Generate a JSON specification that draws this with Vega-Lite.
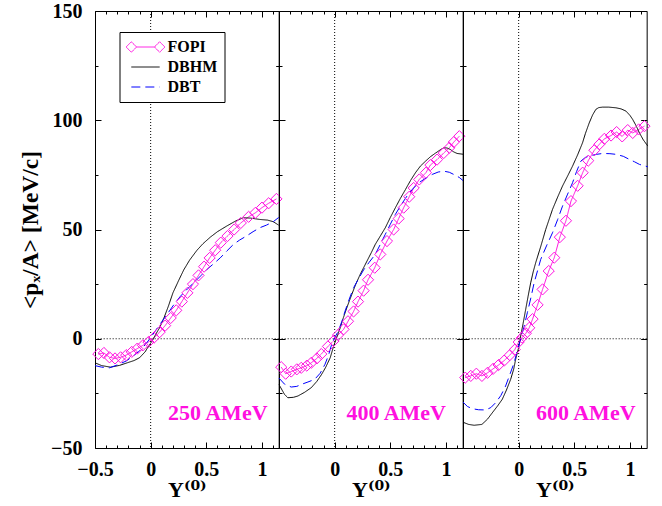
{
  "$schema": "https://vega.github.io/schema/vega-lite/v6.json",
  "background": "white",
  "padding": {"left": 18, "top": 0, "right": 5, "bottom": 5},
  "datasets": {
    "curves": [
      {"panel":1,"series":"FOPI","x":-0.47,"y":-7},{"panel":1,"series":"FOPI","x":-0.42,"y":-6.5},{"panel":1,"series":"FOPI","x":-0.37,"y":-8.5},{"panel":1,"series":"FOPI","x":-0.32,"y":-9},{"panel":1,"series":"FOPI","x":-0.27,"y":-8.5},{"panel":1,"series":"FOPI","x":-0.22,"y":-7.5},{"panel":1,"series":"FOPI","x":-0.17,"y":-6},{"panel":1,"series":"FOPI","x":-0.12,"y":-4.5},{"panel":1,"series":"FOPI","x":-0.07,"y":-3},{"panel":1,"series":"FOPI","x":-0.02,"y":-1.5},{"panel":1,"series":"FOPI","x":0.03,"y":0.5},{"panel":1,"series":"FOPI","x":0.08,"y":3},{"panel":1,"series":"FOPI","x":0.13,"y":6},{"panel":1,"series":"FOPI","x":0.18,"y":9.5},{"panel":1,"series":"FOPI","x":0.23,"y":13},{"panel":1,"series":"FOPI","x":0.28,"y":17},{"panel":1,"series":"FOPI","x":0.33,"y":21},{"panel":1,"series":"FOPI","x":0.38,"y":25},{"panel":1,"series":"FOPI","x":0.43,"y":29},{"panel":1,"series":"FOPI","x":0.48,"y":33},{"panel":1,"series":"FOPI","x":0.53,"y":37},{"panel":1,"series":"FOPI","x":0.58,"y":40.5},{"panel":1,"series":"FOPI","x":0.63,"y":44},{"panel":1,"series":"FOPI","x":0.69,"y":47},{"panel":1,"series":"FOPI","x":0.75,"y":50},{"panel":1,"series":"FOPI","x":0.81,"y":53},{"panel":1,"series":"FOPI","x":0.88,"y":55.8},{"panel":1,"series":"FOPI","x":0.94,"y":57.6},{"panel":1,"series":"FOPI","x":1.0,"y":60},{"panel":1,"series":"FOPI","x":1.06,"y":62},{"panel":1,"series":"FOPI","x":1.13,"y":64},
      {"panel":1,"series":"DBHM","x":-0.5,"y":-11},{"panel":1,"series":"DBHM","x":-0.44,"y":-12.3},{"panel":1,"series":"DBHM","x":-0.36,"y":-13},{"panel":1,"series":"DBHM","x":-0.28,"y":-12.2},{"panel":1,"series":"DBHM","x":-0.21,"y":-11},{"panel":1,"series":"DBHM","x":-0.15,"y":-10},{"panel":1,"series":"DBHM","x":-0.1,"y":-8.7},{"panel":1,"series":"DBHM","x":-0.05,"y":-6},{"panel":1,"series":"DBHM","x":-0.02,"y":-3.5},{"panel":1,"series":"DBHM","x":0.02,"y":-0.5},{"panel":1,"series":"DBHM","x":0.045,"y":2},{"panel":1,"series":"DBHM","x":0.08,"y":5},{"panel":1,"series":"DBHM","x":0.12,"y":9.6},{"panel":1,"series":"DBHM","x":0.16,"y":15},{"panel":1,"series":"DBHM","x":0.2,"y":21},{"panel":1,"series":"DBHM","x":0.25,"y":26.5},{"panel":1,"series":"DBHM","x":0.297,"y":31.5},{"panel":1,"series":"DBHM","x":0.35,"y":36},{"panel":1,"series":"DBHM","x":0.416,"y":40.5},{"panel":1,"series":"DBHM","x":0.47,"y":43.5},{"panel":1,"series":"DBHM","x":0.536,"y":46.5},{"panel":1,"series":"DBHM","x":0.6,"y":49},{"panel":1,"series":"DBHM","x":0.684,"y":51.6},{"panel":1,"series":"DBHM","x":0.76,"y":53.8},{"panel":1,"series":"DBHM","x":0.833,"y":55.4},{"panel":1,"series":"DBHM","x":0.9,"y":55.2},{"panel":1,"series":"DBHM","x":0.98,"y":54.6},{"panel":1,"series":"DBHM","x":1.05,"y":54.3},{"panel":1,"series":"DBHM","x":1.1,"y":53.6},{"panel":1,"series":"DBHM","x":1.15,"y":52},
      {"panel":1,"series":"DBT","x":-0.5,"y":-12.3},{"panel":1,"series":"DBT","x":-0.44,"y":-13},{"panel":1,"series":"DBT","x":-0.37,"y":-13.3},{"panel":1,"series":"DBT","x":-0.3,"y":-12},{"panel":1,"series":"DBT","x":-0.22,"y":-10.2},{"panel":1,"series":"DBT","x":-0.16,"y":-8},{"panel":1,"series":"DBT","x":-0.1,"y":-5.6},{"panel":1,"series":"DBT","x":-0.05,"y":-2.8},{"panel":1,"series":"DBT","x":0.0,"y":0.5},{"panel":1,"series":"DBT","x":0.05,"y":4.2},{"panel":1,"series":"DBT","x":0.1,"y":7.8},{"panel":1,"series":"DBT","x":0.148,"y":11.2},{"panel":1,"series":"DBT","x":0.2,"y":15},{"panel":1,"series":"DBT","x":0.268,"y":19.5},{"panel":1,"series":"DBT","x":0.33,"y":22.8},{"panel":1,"series":"DBT","x":0.387,"y":25.6},{"panel":1,"series":"DBT","x":0.45,"y":28.8},{"panel":1,"series":"DBT","x":0.505,"y":31.7},{"panel":1,"series":"DBT","x":0.565,"y":34.3},{"panel":1,"series":"DBT","x":0.625,"y":37},{"panel":1,"series":"DBT","x":0.685,"y":40.2},{"panel":1,"series":"DBT","x":0.744,"y":43.2},{"panel":1,"series":"DBT","x":0.8,"y":45.2},{"panel":1,"series":"DBT","x":0.86,"y":47},{"panel":1,"series":"DBT","x":0.92,"y":49},{"panel":1,"series":"DBT","x":0.98,"y":50.8},{"panel":1,"series":"DBT","x":1.04,"y":52},{"panel":1,"series":"DBT","x":1.1,"y":53.5},{"panel":1,"series":"DBT","x":1.15,"y":55.5},
      {"panel":2,"series":"FOPI","x":-0.48,"y":-13},{"panel":2,"series":"FOPI","x":-0.44,"y":-16},{"panel":2,"series":"FOPI","x":-0.39,"y":-15},{"panel":2,"series":"FOPI","x":-0.34,"y":-14},{"panel":2,"series":"FOPI","x":-0.3,"y":-13.3},{"panel":2,"series":"FOPI","x":-0.25,"y":-12.3},{"panel":2,"series":"FOPI","x":-0.21,"y":-11},{"panel":2,"series":"FOPI","x":-0.16,"y":-9},{"panel":2,"series":"FOPI","x":-0.12,"y":-7},{"panel":2,"series":"FOPI","x":-0.06,"y":-3.5},{"panel":2,"series":"FOPI","x":-0.01,"y":-1},{"panel":2,"series":"FOPI","x":0.03,"y":1.7},{"panel":2,"series":"FOPI","x":0.08,"y":4.3},{"panel":2,"series":"FOPI","x":0.12,"y":8},{"panel":2,"series":"FOPI","x":0.17,"y":12.5},{"panel":2,"series":"FOPI","x":0.21,"y":17},{"panel":2,"series":"FOPI","x":0.26,"y":22},{"panel":2,"series":"FOPI","x":0.3,"y":27},{"panel":2,"series":"FOPI","x":0.36,"y":32.5},{"panel":2,"series":"FOPI","x":0.41,"y":38.6},{"panel":2,"series":"FOPI","x":0.47,"y":44.7},{"panel":2,"series":"FOPI","x":0.53,"y":50},{"panel":2,"series":"FOPI","x":0.575,"y":55},{"panel":2,"series":"FOPI","x":0.62,"y":60},{"panel":2,"series":"FOPI","x":0.67,"y":65},{"panel":2,"series":"FOPI","x":0.71,"y":69},{"panel":2,"series":"FOPI","x":0.76,"y":72.9},{"panel":2,"series":"FOPI","x":0.82,"y":76},{"panel":2,"series":"FOPI","x":0.86,"y":79.5},{"panel":2,"series":"FOPI","x":0.92,"y":82},{"panel":2,"series":"FOPI","x":0.98,"y":85},{"panel":2,"series":"FOPI","x":1.03,"y":87.4},{"panel":2,"series":"FOPI","x":1.07,"y":90},{"panel":2,"series":"FOPI","x":1.12,"y":92.7},
      {"panel":2,"series":"DBHM","x":-0.5,"y":-21},{"panel":2,"series":"DBHM","x":-0.45,"y":-25.5},{"panel":2,"series":"DBHM","x":-0.42,"y":-27},{"panel":2,"series":"DBHM","x":-0.37,"y":-26.8},{"panel":2,"series":"DBHM","x":-0.33,"y":-26.2},{"panel":2,"series":"DBHM","x":-0.27,"y":-24.5},{"panel":2,"series":"DBHM","x":-0.21,"y":-22.4},{"panel":2,"series":"DBHM","x":-0.16,"y":-19.5},{"panel":2,"series":"DBHM","x":-0.117,"y":-16.3},{"panel":2,"series":"DBHM","x":-0.08,"y":-13},{"panel":2,"series":"DBHM","x":-0.04,"y":-8.7},{"panel":2,"series":"DBHM","x":-0.01,"y":-3.5},{"panel":2,"series":"DBHM","x":0.018,"y":0.5},{"panel":2,"series":"DBHM","x":0.05,"y":5},{"panel":2,"series":"DBHM","x":0.078,"y":9.6},{"panel":2,"series":"DBHM","x":0.115,"y":15},{"panel":2,"series":"DBHM","x":0.154,"y":20.3},{"panel":2,"series":"DBHM","x":0.19,"y":25},{"panel":2,"series":"DBHM","x":0.23,"y":29.5},{"panel":2,"series":"DBHM","x":0.29,"y":35.5},{"panel":2,"series":"DBHM","x":0.33,"y":39.5},{"panel":2,"series":"DBHM","x":0.365,"y":43.2},{"panel":2,"series":"DBHM","x":0.41,"y":47},{"panel":2,"series":"DBHM","x":0.455,"y":50.8},{"panel":2,"series":"DBHM","x":0.5,"y":55.5},{"panel":2,"series":"DBHM","x":0.545,"y":59.9},{"panel":2,"series":"DBHM","x":0.59,"y":64.2},{"panel":2,"series":"DBHM","x":0.636,"y":68.3},{"panel":2,"series":"DBHM","x":0.68,"y":72.3},{"panel":2,"series":"DBHM","x":0.726,"y":76},{"panel":2,"series":"DBHM","x":0.77,"y":79},{"panel":2,"series":"DBHM","x":0.817,"y":81.3},{"panel":2,"series":"DBHM","x":0.86,"y":83.3},{"panel":2,"series":"DBHM","x":0.907,"y":85},{"panel":2,"series":"DBHM","x":0.95,"y":86.5},{"panel":2,"series":"DBHM","x":0.98,"y":87.4},{"panel":2,"series":"DBHM","x":1.01,"y":87.3},{"panel":2,"series":"DBHM","x":1.04,"y":86.6},{"panel":2,"series":"DBHM","x":1.07,"y":85.5},{"panel":2,"series":"DBHM","x":1.1,"y":84.8},{"panel":2,"series":"DBHM","x":1.16,"y":84.4},
      {"panel":2,"series":"DBT","x":-0.5,"y":-18},{"panel":2,"series":"DBT","x":-0.45,"y":-20.8},{"panel":2,"series":"DBT","x":-0.39,"y":-22.1},{"panel":2,"series":"DBT","x":-0.34,"y":-21.8},{"panel":2,"series":"DBT","x":-0.3,"y":-20.9},{"panel":2,"series":"DBT","x":-0.24,"y":-19.8},{"panel":2,"series":"DBT","x":-0.18,"y":-18.6},{"panel":2,"series":"DBT","x":-0.13,"y":-15.8},{"panel":2,"series":"DBT","x":-0.087,"y":-11.7},{"panel":2,"series":"DBT","x":-0.055,"y":-7.5},{"panel":2,"series":"DBT","x":-0.027,"y":-2.6},{"panel":2,"series":"DBT","x":0.0,"y":0.5},{"panel":2,"series":"DBT","x":0.033,"y":3.5},{"panel":2,"series":"DBT","x":0.065,"y":8},{"panel":2,"series":"DBT","x":0.094,"y":12.7},{"panel":2,"series":"DBT","x":0.13,"y":18},{"panel":2,"series":"DBT","x":0.17,"y":23.3},{"panel":2,"series":"DBT","x":0.215,"y":27.5},{"panel":2,"series":"DBT","x":0.26,"y":31.5},{"panel":2,"series":"DBT","x":0.31,"y":35},{"panel":2,"series":"DBT","x":0.365,"y":38.6},{"panel":2,"series":"DBT","x":0.41,"y":43.2},{"panel":2,"series":"DBT","x":0.455,"y":47.8},{"panel":2,"series":"DBT","x":0.5,"y":52.4},{"panel":2,"series":"DBT","x":0.545,"y":56.9},{"panel":2,"series":"DBT","x":0.6,"y":61.5},{"panel":2,"series":"DBT","x":0.65,"y":65.3},{"panel":2,"series":"DBT","x":0.7,"y":68.5},{"panel":2,"series":"DBT","x":0.756,"y":71.4},{"panel":2,"series":"DBT","x":0.82,"y":73.5},{"panel":2,"series":"DBT","x":0.876,"y":75.2},{"panel":2,"series":"DBT","x":0.93,"y":76.3},{"panel":2,"series":"DBT","x":0.98,"y":76.7},{"panel":2,"series":"DBT","x":1.03,"y":76.2},{"panel":2,"series":"DBT","x":1.07,"y":75.2},{"panel":2,"series":"DBT","x":1.12,"y":73.8},{"panel":2,"series":"DBT","x":1.16,"y":72.1},
      {"panel":3,"series":"FOPI","x":-0.48,"y":-17.8},{"panel":3,"series":"FOPI","x":-0.43,"y":-17},{"panel":3,"series":"FOPI","x":-0.38,"y":-16},{"panel":3,"series":"FOPI","x":-0.33,"y":-17},{"panel":3,"series":"FOPI","x":-0.28,"y":-15.6},{"panel":3,"series":"FOPI","x":-0.23,"y":-13.8},{"panel":3,"series":"FOPI","x":-0.18,"y":-12},{"panel":3,"series":"FOPI","x":-0.13,"y":-10},{"panel":3,"series":"FOPI","x":-0.08,"y":-7.5},{"panel":3,"series":"FOPI","x":-0.035,"y":-5},{"panel":3,"series":"FOPI","x":0.0,"y":-1.5},{"panel":3,"series":"FOPI","x":0.03,"y":0.5},{"panel":3,"series":"FOPI","x":0.065,"y":2.5},{"panel":3,"series":"FOPI","x":0.095,"y":5},{"panel":3,"series":"FOPI","x":0.125,"y":9},{"panel":3,"series":"FOPI","x":0.17,"y":15.5},{"panel":3,"series":"FOPI","x":0.215,"y":22.6},{"panel":3,"series":"FOPI","x":0.27,"y":31},{"panel":3,"series":"FOPI","x":0.32,"y":37.1},{"panel":3,"series":"FOPI","x":0.37,"y":46.5},{"panel":3,"series":"FOPI","x":0.425,"y":54},{"panel":3,"series":"FOPI","x":0.47,"y":63},{"panel":3,"series":"FOPI","x":0.53,"y":70},{"panel":3,"series":"FOPI","x":0.575,"y":76},{"panel":3,"series":"FOPI","x":0.625,"y":81.5},{"panel":3,"series":"FOPI","x":0.68,"y":86.3},{"panel":3,"series":"FOPI","x":0.725,"y":89},{"panel":3,"series":"FOPI","x":0.77,"y":91.5},{"panel":3,"series":"FOPI","x":0.83,"y":93},{"panel":3,"series":"FOPI","x":0.88,"y":94.6},{"panel":3,"series":"FOPI","x":0.93,"y":92.6},{"panel":3,"series":"FOPI","x":0.98,"y":95.5},{"panel":3,"series":"FOPI","x":1.025,"y":94.2},{"panel":3,"series":"FOPI","x":1.078,"y":95.8},{"panel":3,"series":"FOPI","x":1.13,"y":97.3},
      {"panel":3,"series":"DBHM","x":-0.5,"y":-38.2},{"panel":3,"series":"DBHM","x":-0.45,"y":-39.2},{"panel":3,"series":"DBHM","x":-0.4,"y":-39.6},{"panel":3,"series":"DBHM","x":-0.33,"y":-39.2},{"panel":3,"series":"DBHM","x":-0.28,"y":-36.8},{"panel":3,"series":"DBHM","x":-0.237,"y":-33.9},{"panel":3,"series":"DBHM","x":-0.19,"y":-30.8},{"panel":3,"series":"DBHM","x":-0.147,"y":-27.7},{"panel":3,"series":"DBHM","x":-0.11,"y":-23.5},{"panel":3,"series":"DBHM","x":-0.072,"y":-18.6},{"panel":3,"series":"DBHM","x":-0.045,"y":-14},{"panel":3,"series":"DBHM","x":-0.027,"y":-9.4},{"panel":3,"series":"DBHM","x":0.0,"y":-4},{"panel":3,"series":"DBHM","x":0.018,"y":1.2},{"panel":3,"series":"DBHM","x":0.04,"y":7},{"panel":3,"series":"DBHM","x":0.063,"y":13.4},{"panel":3,"series":"DBHM","x":0.085,"y":19.5},{"panel":3,"series":"DBHM","x":0.108,"y":25.6},{"panel":3,"series":"DBHM","x":0.13,"y":30.5},{"panel":3,"series":"DBHM","x":0.153,"y":34.8},{"panel":3,"series":"DBHM","x":0.2,"y":42.5},{"panel":3,"series":"DBHM","x":0.243,"y":50},{"panel":3,"series":"DBHM","x":0.304,"y":59.2},{"panel":3,"series":"DBHM","x":0.35,"y":64.8},{"panel":3,"series":"DBHM","x":0.394,"y":69.9},{"panel":3,"series":"DBHM","x":0.44,"y":74.5},{"panel":3,"series":"DBHM","x":0.484,"y":79},{"panel":3,"series":"DBHM","x":0.53,"y":84.2},{"panel":3,"series":"DBHM","x":0.574,"y":89.7},{"panel":3,"series":"DBHM","x":0.6,"y":94},{"panel":3,"series":"DBHM","x":0.634,"y":98.8},{"panel":3,"series":"DBHM","x":0.665,"y":102.5},{"panel":3,"series":"DBHM","x":0.694,"y":105},{"panel":3,"series":"DBHM","x":0.72,"y":105.8},{"panel":3,"series":"DBHM","x":0.754,"y":106},{"panel":3,"series":"DBHM","x":0.81,"y":106},{"panel":3,"series":"DBHM","x":0.874,"y":105.7},{"panel":3,"series":"DBHM","x":0.92,"y":105.2},{"panel":3,"series":"DBHM","x":0.964,"y":104.2},{"panel":3,"series":"DBHM","x":1.0,"y":102.2},{"panel":3,"series":"DBHM","x":1.024,"y":100.4},{"panel":3,"series":"DBHM","x":1.055,"y":97.5},{"panel":3,"series":"DBHM","x":1.085,"y":94.2},{"panel":3,"series":"DBHM","x":1.12,"y":91},{"panel":3,"series":"DBHM","x":1.16,"y":88.2},
      {"panel":3,"series":"DBT","x":-0.5,"y":-29},{"panel":3,"series":"DBT","x":-0.46,"y":-31},{"panel":3,"series":"DBT","x":-0.417,"y":-32},{"panel":3,"series":"DBT","x":-0.36,"y":-32.5},{"panel":3,"series":"DBT","x":-0.297,"y":-32.6},{"panel":3,"series":"DBT","x":-0.25,"y":-31.5},{"panel":3,"series":"DBT","x":-0.207,"y":-29.3},{"panel":3,"series":"DBT","x":-0.16,"y":-26},{"panel":3,"series":"DBT","x":-0.117,"y":-21.6},{"panel":3,"series":"DBT","x":-0.08,"y":-16.5},{"panel":3,"series":"DBT","x":-0.041,"y":-11},{"panel":3,"series":"DBT","x":-0.01,"y":-5},{"panel":3,"series":"DBT","x":0.018,"y":-0.3},{"panel":3,"series":"DBT","x":0.048,"y":5.5},{"panel":3,"series":"DBT","x":0.078,"y":11.9},{"panel":3,"series":"DBT","x":0.11,"y":18.8},{"panel":3,"series":"DBT","x":0.139,"y":25.6},{"panel":3,"series":"DBT","x":0.17,"y":31.2},{"panel":3,"series":"DBT","x":0.198,"y":36.3},{"panel":3,"series":"DBT","x":0.25,"y":42.5},{"panel":3,"series":"DBT","x":0.304,"y":48.5},{"panel":3,"series":"DBT","x":0.35,"y":54.5},{"panel":3,"series":"DBT","x":0.394,"y":60.7},{"panel":3,"series":"DBT","x":0.44,"y":66.2},{"panel":3,"series":"DBT","x":0.484,"y":71.4},{"panel":3,"series":"DBT","x":0.52,"y":76.5},{"panel":3,"series":"DBT","x":0.559,"y":81.3},{"panel":3,"series":"DBT","x":0.6,"y":83},{"panel":3,"series":"DBT","x":0.634,"y":83.6},{"panel":3,"series":"DBT","x":0.7,"y":84.4},{"panel":3,"series":"DBT","x":0.754,"y":84.8},{"panel":3,"series":"DBT","x":0.82,"y":84.7},{"panel":3,"series":"DBT","x":0.874,"y":84.4},{"panel":3,"series":"DBT","x":0.94,"y":83.5},{"panel":3,"series":"DBT","x":0.994,"y":82.1},{"panel":3,"series":"DBT","x":1.04,"y":81},{"panel":3,"series":"DBT","x":1.085,"y":79.8},{"panel":3,"series":"DBT","x":1.16,"y":78.7}
    ],
    "labels": [
      {"panel":1,"label":"250 AMeV","x":1.05,"y":-34},
      {"panel":2,"label":"400 AMeV","x":1.0,"y":-34},
      {"panel":3,"label":"600 AMeV","x":1.05,"y":-34}
    ]
  },
  "spacing": 0,
  "bounds": "flush",
  "resolve": {"legend": {"color": "independent", "strokeDash": "independent"}},
  "hconcat": [
    {
      "width": 183.67, "height": 437,
      "resolve": {"axis": {"x": "independent", "y": "independent"}},
      "layer": [
        {"data": {"name": "curves"}, "transform": [{"filter": "datum.panel == 1"}],
         "mark": {"type": "point", "opacity": 0},
         "encoding": {
           "x": {"field": "x", "type": "quantitative", "scale": {"domain": [-0.5, 1.15], "nice": false, "zero": false},
                 "axis": {"orient": "top", "values": [-0.5,0,0.5,1], "labels": false, "title": null}},
           "y": {"field": "y", "type": "quantitative", "scale": {"domain": [-50, 150], "nice": false, "zero": false},
                 "axis": {"orient": "right", "values": [-50,0,50,100,150], "labels": false, "title": null}}
         }},
        {"data": {"name": "curves"}, "transform": [{"filter": "datum.panel == 1"}],
         "mark": {"type": "point", "opacity": 0},
         "encoding": {
           "x": {"field": "x", "type": "quantitative", "scale": {"domain": [-0.5, 1.15], "nice": false, "zero": false},
                 "axis": {"orient": "top", "values": [-0.4,-0.3,-0.2,-0.1,0.1,0.2,0.3,0.4,0.6,0.7,0.8,0.9,1.1], "labels": false, "title": null, "tickSize": -3}},
           "y": {"field": "y", "type": "quantitative", "scale": {"domain": [-50, 150], "nice": false, "zero": false},
                 "axis": {"orient": "right", "values": [-25,25,75,125], "labels": false, "title": null, "tickSize": -3}}
         }},
        {"data": {"name": "curves"}, "transform": [{"filter": "datum.panel == 1"}],
         "mark": {"type": "point", "opacity": 0},
         "encoding": {
           "x": {"field": "x", "type": "quantitative", "scale": {"domain": [-0.5, 1.15], "nice": false, "zero": false},
                 "axis": {"orient": "bottom", "values": [-0.4,-0.3,-0.2,-0.1,0.1,0.2,0.3,0.4,0.6,0.7,0.8,0.9,1.1], "labels": false, "title": null, "tickSize": -3}},
           "y": {"field": "y", "type": "quantitative", "scale": {"domain": [-50, 150], "nice": false, "zero": false},
                 "axis": {"orient": "left", "values": [-25,25,75,125], "labels": false, "title": null, "tickSize": -3}}
         }},
        {"data": {"values": [{}]}, "mark": {"type": "rule", "strokeDash": [1, 2], "color": "black", "strokeWidth": 1},
         "encoding": {"x": {"datum": 0, "type": "quantitative", "scale": {"domain": [-0.5, 1.15], "nice": false, "zero": false}, "axis": null}}},
        {"data": {"values": [{}]}, "mark": {"type": "rule", "strokeDash": [1, 2], "color": "black", "strokeWidth": 1},
         "encoding": {"y": {"datum": 0, "type": "quantitative", "scale": {"domain": [-50, 150], "nice": false, "zero": false}, "axis": null}}},
        {"data": {"name": "curves"}, "transform": [{"filter": "datum.panel == 1"}],
         "mark": {"type": "line", "strokeWidth": 1},
         "encoding": {
           "x": {"field": "x", "type": "quantitative", "scale": {"domain": [-0.5, 1.15], "nice": false, "zero": false},
                 "axis": {"orient": "bottom", "values": [-0.5,0,0.5,1],
                          "labelExpr": "datum.value == -0.5 ? '\u22120.5' : datum.value == 0 ? '0' : datum.value == 0.5 ? '0.5' : '1'",
                          "labelPadding": 17, "title": "Y\u207D\u2070\u207E", "titleFontSize": 22, "titlePadding": 0}},
           "y": {"field": "y", "type": "quantitative", "scale": {"domain": [-50, 150], "nice": false, "zero": false},
                 "axis": {"orient": "left", "values": [-50,0,50,100,150],
                          "labelExpr": "datum.value < 0 ? '\u2212' + abs(datum.value) : '' + datum.value",
                          "labelPadding": 19, "title": "<p\u2093/A> [MeV/c]", "titleFontSize": 23.5, "titlePadding": 8}},
           "color": {"field": "series", "type": "nominal",
                     "scale": {"domain": ["FOPI", "DBHM", "DBT"], "range": ["#ff10e0", "black", "#0000ff"]},
                     "legend": {"title": null, "orient": "none", "legendX": 24.5, "legendY": 21, "strokeColor": "black", "fillColor": "white",
                                "padding": 7, "labelFont": "Liberation Serif", "labelFontSize": 16, "labelFontWeight": "bold", "labelColor": "black",
                                "labelExpr": "datum.label + '\u00a0\u00a0\u00a0'",
                                "symbolSize": 110, "symbolStrokeWidth": 1, "rowPadding": 4, "symbolOffset": 11, "labelOffset": 14,
                                "encode": {"symbols": {"update": {
                                  "shape": {"signal": "datum.value === 'FOPI' ? 'M-3.7,0L-2.7,-1L-1.7,0L-2.7,1ZM1.7,0L2.7,-1L3.7,0L2.7,1ZM-1.7,0L1.7,0' : 'M-2.7,0L2.7,0'"},
                                  "fill": {"value": "transparent"}}}}}},
           "strokeDash": {"field": "series", "type": "nominal",
                          "scale": {"domain": ["FOPI", "DBHM", "DBT"], "range": [[1, 0], [1, 0], [9, 5]]},
                          "legend": {"title": null, "orient": "none", "legendX": 24.5, "legendY": 21, "strokeColor": "black", "fillColor": "white",
                                "padding": 7, "labelFont": "Liberation Serif", "labelFontSize": 16, "labelFontWeight": "bold", "labelColor": "black",
                                "labelExpr": "datum.label + '\u00a0\u00a0\u00a0'",
                                "symbolSize": 110, "symbolStrokeWidth": 1, "rowPadding": 4, "symbolOffset": 11, "labelOffset": 14,
                                "encode": {"symbols": {"update": {
                                  "shape": {"signal": "datum.value === 'FOPI' ? 'M-3.7,0L-2.7,-1L-1.7,0L-2.7,1ZM1.7,0L2.7,-1L3.7,0L2.7,1ZM-1.7,0L1.7,0' : 'M-2.7,0L2.7,0'"},
                                  "fill": {"value": "transparent"}}}}}}
         }},
        {"data": {"name": "curves"}, "transform": [{"filter": "datum.panel == 1 && datum.series == 'FOPI'"}],
         "mark": {"type": "point", "shape": "diamond", "filled": false, "size": 125, "strokeWidth": 1, "color": "#ff10e0", "opacity": 1},
         "encoding": {
           "x": {"field": "x", "type": "quantitative", "scale": {"domain": [-0.5, 1.15], "nice": false, "zero": false}, "axis": null},
           "y": {"field": "y", "type": "quantitative", "scale": {"domain": [-50, 150], "nice": false, "zero": false}, "axis": null}
         }},
        {"data": {"name": "labels"}, "transform": [{"filter": "datum.panel == 1"}],
         "mark": {"type": "text", "align": "right", "baseline": "middle", "font": "Liberation Serif", "fontWeight": "bold", "fontSize": 22, "color": "#ff10e0"},
         "encoding": {
           "x": {"field": "x", "type": "quantitative", "scale": {"domain": [-0.5, 1.15], "nice": false, "zero": false}, "axis": null},
           "y": {"field": "y", "type": "quantitative", "scale": {"domain": [-50, 150], "nice": false, "zero": false}, "axis": null},
           "text": {"field": "label"}
         }}
      ]
    },
    {
      "width": 183.67, "height": 437,
      "resolve": {"axis": {"x": "independent", "y": "independent"}},
      "layer": [
        {"data": {"name": "curves"}, "transform": [{"filter": "datum.panel == 2"}],
         "mark": {"type": "point", "opacity": 0},
         "encoding": {
           "x": {"field": "x", "type": "quantitative", "scale": {"domain": [-0.5, 1.15], "nice": false, "zero": false},
                 "axis": {"orient": "top", "values": [-0.5,0,0.5,1], "labels": false, "title": null}},
           "y": {"field": "y", "type": "quantitative", "scale": {"domain": [-50, 150], "nice": false, "zero": false},
                 "axis": {"orient": "right", "values": [-50,0,50,100,150], "labels": false, "title": null}}
         }},
        {"data": {"name": "curves"}, "transform": [{"filter": "datum.panel == 2"}],
         "mark": {"type": "point", "opacity": 0},
         "encoding": {
           "x": {"field": "x", "type": "quantitative", "scale": {"domain": [-0.5, 1.15], "nice": false, "zero": false},
                 "axis": {"orient": "top", "values": [-0.4,-0.3,-0.2,-0.1,0.1,0.2,0.3,0.4,0.6,0.7,0.8,0.9,1.1], "labels": false, "title": null, "tickSize": -3}},
           "y": {"field": "y", "type": "quantitative", "scale": {"domain": [-50, 150], "nice": false, "zero": false},
                 "axis": {"orient": "right", "values": [-25,25,75,125], "labels": false, "title": null, "tickSize": -3}}
         }},
        {"data": {"name": "curves"}, "transform": [{"filter": "datum.panel == 2"}],
         "mark": {"type": "point", "opacity": 0},
         "encoding": {
           "x": {"field": "x", "type": "quantitative", "scale": {"domain": [-0.5, 1.15], "nice": false, "zero": false},
                 "axis": {"orient": "bottom", "values": [-0.4,-0.3,-0.2,-0.1,0.1,0.2,0.3,0.4,0.6,0.7,0.8,0.9,1.1], "labels": false, "title": null, "tickSize": -3}},
           "y": {"field": "y", "type": "quantitative", "scale": {"domain": [-50, 150], "nice": false, "zero": false},
                 "axis": {"orient": "left", "values": [-25,25,75,125], "labels": false, "title": null, "tickSize": -3}}
         }},
        {"data": {"values": [{}]}, "mark": {"type": "rule", "strokeDash": [1, 2], "color": "black", "strokeWidth": 1},
         "encoding": {"x": {"datum": 0, "type": "quantitative", "scale": {"domain": [-0.5, 1.15], "nice": false, "zero": false}, "axis": null}}},
        {"data": {"values": [{}]}, "mark": {"type": "rule", "strokeDash": [1, 2], "color": "black", "strokeWidth": 1},
         "encoding": {"y": {"datum": 0, "type": "quantitative", "scale": {"domain": [-50, 150], "nice": false, "zero": false}, "axis": null}}},
        {"data": {"name": "curves"}, "transform": [{"filter": "datum.panel == 2"}],
         "mark": {"type": "line", "strokeWidth": 1},
         "encoding": {
           "x": {"field": "x", "type": "quantitative", "scale": {"domain": [-0.5, 1.15], "nice": false, "zero": false},
                 "axis": {"orient": "bottom", "values": [-0.5,0,0.5,1],
                          "labelExpr": "datum.value == 0 ? '0' : datum.value == 0.5 ? '0.5' : datum.value == 1 ? '1' : ''",
                          "labelPadding": 17, "title": "Y\u207D\u2070\u207E", "titleFontSize": 22, "titlePadding": 0}},
           "y": {"field": "y", "type": "quantitative", "scale": {"domain": [-50, 150], "nice": false, "zero": false},
                 "axis": {"orient": "left", "values": [-50,0,50,100,150], "labels": false, "title": null}},
           "color": {"field": "series", "type": "nominal",
                     "scale": {"domain": ["FOPI", "DBHM", "DBT"], "range": ["#ff10e0", "black", "#0000ff"]}, "legend": null},
           "strokeDash": {"field": "series", "type": "nominal",
                          "scale": {"domain": ["FOPI", "DBHM", "DBT"], "range": [[1, 0], [1, 0], [9, 5]]}, "legend": null}
         }},
        {"data": {"name": "curves"}, "transform": [{"filter": "datum.panel == 2 && datum.series == 'FOPI'"}],
         "mark": {"type": "point", "shape": "diamond", "filled": false, "size": 125, "strokeWidth": 1, "color": "#ff10e0", "opacity": 1},
         "encoding": {
           "x": {"field": "x", "type": "quantitative", "scale": {"domain": [-0.5, 1.15], "nice": false, "zero": false}, "axis": null},
           "y": {"field": "y", "type": "quantitative", "scale": {"domain": [-50, 150], "nice": false, "zero": false}, "axis": null}
         }},
        {"data": {"name": "labels"}, "transform": [{"filter": "datum.panel == 2"}],
         "mark": {"type": "text", "align": "right", "baseline": "middle", "font": "Liberation Serif", "fontWeight": "bold", "fontSize": 22, "color": "#ff10e0"},
         "encoding": {
           "x": {"field": "x", "type": "quantitative", "scale": {"domain": [-0.5, 1.15], "nice": false, "zero": false}, "axis": null},
           "y": {"field": "y", "type": "quantitative", "scale": {"domain": [-50, 150], "nice": false, "zero": false}, "axis": null},
           "text": {"field": "label"}
         }}
      ]
    },
    {
      "width": 183.67, "height": 437,
      "resolve": {"axis": {"x": "independent", "y": "independent"}},
      "layer": [
        {"data": {"name": "curves"}, "transform": [{"filter": "datum.panel == 3"}],
         "mark": {"type": "point", "opacity": 0},
         "encoding": {
           "x": {"field": "x", "type": "quantitative", "scale": {"domain": [-0.5, 1.15], "nice": false, "zero": false},
                 "axis": {"orient": "top", "values": [-0.5,0,0.5,1], "labels": false, "title": null}},
           "y": {"field": "y", "type": "quantitative", "scale": {"domain": [-50, 150], "nice": false, "zero": false},
                 "axis": {"orient": "right", "values": [-50,0,50,100,150], "labels": false, "title": null}}
         }},
        {"data": {"name": "curves"}, "transform": [{"filter": "datum.panel == 3"}],
         "mark": {"type": "point", "opacity": 0},
         "encoding": {
           "x": {"field": "x", "type": "quantitative", "scale": {"domain": [-0.5, 1.15], "nice": false, "zero": false},
                 "axis": {"orient": "top", "values": [-0.4,-0.3,-0.2,-0.1,0.1,0.2,0.3,0.4,0.6,0.7,0.8,0.9,1.1], "labels": false, "title": null, "tickSize": -3}},
           "y": {"field": "y", "type": "quantitative", "scale": {"domain": [-50, 150], "nice": false, "zero": false},
                 "axis": {"orient": "right", "values": [-25,25,75,125], "labels": false, "title": null, "tickSize": -3}}
         }},
        {"data": {"name": "curves"}, "transform": [{"filter": "datum.panel == 3"}],
         "mark": {"type": "point", "opacity": 0},
         "encoding": {
           "x": {"field": "x", "type": "quantitative", "scale": {"domain": [-0.5, 1.15], "nice": false, "zero": false},
                 "axis": {"orient": "bottom", "values": [-0.4,-0.3,-0.2,-0.1,0.1,0.2,0.3,0.4,0.6,0.7,0.8,0.9,1.1], "labels": false, "title": null, "tickSize": -3}},
           "y": {"field": "y", "type": "quantitative", "scale": {"domain": [-50, 150], "nice": false, "zero": false},
                 "axis": {"orient": "left", "values": [-25,25,75,125], "labels": false, "title": null, "tickSize": -3}}
         }},
        {"data": {"values": [{}]}, "mark": {"type": "rule", "strokeDash": [1, 2], "color": "black", "strokeWidth": 1},
         "encoding": {"x": {"datum": 0, "type": "quantitative", "scale": {"domain": [-0.5, 1.15], "nice": false, "zero": false}, "axis": null}}},
        {"data": {"values": [{}]}, "mark": {"type": "rule", "strokeDash": [1, 2], "color": "black", "strokeWidth": 1},
         "encoding": {"y": {"datum": 0, "type": "quantitative", "scale": {"domain": [-50, 150], "nice": false, "zero": false}, "axis": null}}},
        {"data": {"name": "curves"}, "transform": [{"filter": "datum.panel == 3"}],
         "mark": {"type": "line", "strokeWidth": 1},
         "encoding": {
           "x": {"field": "x", "type": "quantitative", "scale": {"domain": [-0.5, 1.15], "nice": false, "zero": false},
                 "axis": {"orient": "bottom", "values": [-0.5,0,0.5,1],
                          "labelExpr": "datum.value == 0 ? '0' : datum.value == 0.5 ? '0.5' : datum.value == 1 ? '1' : ''",
                          "labelPadding": 17, "title": "Y\u207D\u2070\u207E", "titleFontSize": 22, "titlePadding": 0}},
           "y": {"field": "y", "type": "quantitative", "scale": {"domain": [-50, 150], "nice": false, "zero": false},
                 "axis": {"orient": "left", "values": [-50,0,50,100,150], "labels": false, "title": null}},
           "color": {"field": "series", "type": "nominal",
                     "scale": {"domain": ["FOPI", "DBHM", "DBT"], "range": ["#ff10e0", "black", "#0000ff"]}, "legend": null},
           "strokeDash": {"field": "series", "type": "nominal",
                          "scale": {"domain": ["FOPI", "DBHM", "DBT"], "range": [[1, 0], [1, 0], [9, 5]]}, "legend": null}
         }},
        {"data": {"name": "curves"}, "transform": [{"filter": "datum.panel == 3 && datum.series == 'FOPI'"}],
         "mark": {"type": "point", "shape": "diamond", "filled": false, "size": 125, "strokeWidth": 1, "color": "#ff10e0", "opacity": 1},
         "encoding": {
           "x": {"field": "x", "type": "quantitative", "scale": {"domain": [-0.5, 1.15], "nice": false, "zero": false}, "axis": null},
           "y": {"field": "y", "type": "quantitative", "scale": {"domain": [-50, 150], "nice": false, "zero": false}, "axis": null}
         }},
        {"data": {"name": "labels"}, "transform": [{"filter": "datum.panel == 3"}],
         "mark": {"type": "text", "align": "right", "baseline": "middle", "font": "Liberation Serif", "fontWeight": "bold", "fontSize": 22, "color": "#ff10e0"},
         "encoding": {
           "x": {"field": "x", "type": "quantitative", "scale": {"domain": [-0.5, 1.15], "nice": false, "zero": false}, "axis": null},
           "y": {"field": "y", "type": "quantitative", "scale": {"domain": [-50, 150], "nice": false, "zero": false}, "axis": null},
           "text": {"field": "label"}
         }}
      ]
    }
  ],
  "config": {
    "view": {"stroke": "black", "strokeWidth": 1},
    "axis": {"domain": false, "grid": false, "ticks": true, "tickSize": -6, "tickColor": "black", "tickWidth": 1,
             "labelFont": "Liberation Serif", "labelFontSize": 20, "labelFontWeight": "bold", "labelColor": "black",
             "labelFlush": false, "labelOverlap": false, "labelBound": false, "minExtent": 0,
             "titleFont": "Liberation Serif, DejaVu Serif", "titleFontWeight": "bold", "titleColor": "black"}
  }
}
